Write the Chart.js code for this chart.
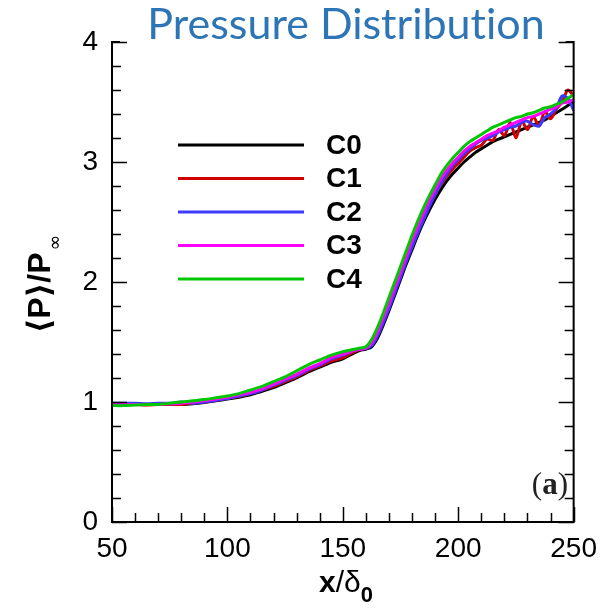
<!DOCTYPE html>
<html>
<head>
<meta charset="utf-8">
<script src="https://cdn.jsdelivr.net/npm/chart.js@4.4.1/dist/chart.umd.min.js"></script>
<style>
    html, body { margin: 0; padding: 0; background: #fff; }
    #wrap { width: 607px; height: 609px; position: relative; }
</style>
</head>
<body>
<div id="wrap"><canvas id="chartPressure"></canvas></div>
<script>
// streamwise stations x/delta0
const xPos = [50, 55, 60, 65, 70, 75, 80, 85, 90, 95, 100, 105, 110, 115, 120, 125, 130, 135, 140, 145,
    150, 155, 157.5, 160, 162.5, 165, 167.5, 170, 172.5, 175, 177.5, 180, 182.5, 185, 187.5, 190,
    192.5, 195, 197.5, 200, 202.5, 205, 207.5, 210, 212.5, 215, 217.5, 220, 222.5, 225, 227.5, 230,
    232.5, 235, 237.5, 240, 242.5, 245, 247.5, 250];

// mean wall pressure <P>/P_inf for each case
const c0 = [0.99, 0.98, 0.98, 0.98, 0.98, 0.98, 0.98, 0.985, 0.995, 1.01, 1.025, 1.04, 1.06, 1.09, 1.12, 1.16, 1.2, 1.25, 1.29, 1.33,
    1.36, 1.41, 1.43, 1.44, 1.46, 1.53, 1.64, 1.76, 1.89, 2.02, 2.15, 2.27, 2.39, 2.5, 2.6, 2.69,
    2.77, 2.84, 2.9, 2.95, 3.0, 3.04, 3.08, 3.11, 3.14, 3.17, 3.19, 3.21, 3.23, 3.25, 3.27, 3.29,
    3.31, 3.33, 3.35, 3.38, 3.41, 3.44, 3.47, 3.5];
const c1 = [0.99, 0.98, 0.98, 0.975, 0.98, 0.98, 0.98, 0.99, 1.0, 1.015, 1.03, 1.045, 1.07, 1.1, 1.13, 1.17, 1.21, 1.26, 1.3, 1.34,
    1.37, 1.42, 1.44, 1.445, 1.48, 1.56, 1.68, 1.8, 1.93, 2.06, 2.19, 2.31, 2.43, 2.54, 2.64, 2.73,
    2.81, 2.88, 2.94, 2.99, 3.04, 3.09, 3.12, 3.14, 3.19, 3.18, 3.27, 3.22, 3.33, 3.2, 3.34, 3.27,
    3.38, 3.3, 3.42, 3.36, 3.44, 3.5, 3.6, 3.55];
const c2 = [0.99, 0.99, 0.99, 0.985, 0.99, 0.99, 1.0, 0.99, 1.0, 1.015, 1.03, 1.05, 1.07, 1.1, 1.14, 1.18, 1.22, 1.27, 1.31, 1.36,
    1.39, 1.43, 1.44, 1.445, 1.47, 1.55, 1.66, 1.78, 1.91, 2.04, 2.17, 2.29, 2.41, 2.52, 2.63, 2.73,
    2.82, 2.9, 2.97, 3.02, 3.07, 3.11, 3.15, 3.18, 3.2, 3.22, 3.25, 3.27, 3.29, 3.3, 3.33, 3.34,
    3.31, 3.3, 3.37, 3.4, 3.45, 3.55, 3.53, 3.43];
const c3 = [0.98, 0.98, 0.98, 0.98, 0.98, 0.985, 0.99, 1.0, 1.01, 1.025, 1.04, 1.06, 1.08, 1.11, 1.15, 1.19, 1.23, 1.28, 1.32, 1.37,
    1.4, 1.43, 1.44, 1.45, 1.49, 1.58, 1.7, 1.82, 1.95, 2.08, 2.21, 2.34, 2.46, 2.57, 2.68, 2.77,
    2.86, 2.93, 2.99, 3.04, 3.09, 3.13, 3.16, 3.19, 3.22, 3.24, 3.26, 3.29, 3.31, 3.33, 3.35, 3.37,
    3.38, 3.4, 3.42, 3.44, 3.46, 3.49, 3.5, 3.52];
const c4 = [0.97, 0.97, 0.975, 0.98, 0.98, 0.99, 1.0, 1.01, 1.02, 1.035, 1.05, 1.07, 1.1, 1.13, 1.17, 1.21, 1.26, 1.31, 1.35, 1.39,
    1.42, 1.44, 1.45, 1.46, 1.52, 1.62, 1.74, 1.87, 2.0, 2.13, 2.26, 2.39, 2.51, 2.62, 2.72, 2.81,
    2.9, 2.97, 3.03, 3.08, 3.13, 3.17, 3.2, 3.23, 3.26, 3.29, 3.31, 3.33, 3.35, 3.37, 3.38, 3.4,
    3.41, 3.43, 3.45, 3.46, 3.48, 3.5, 3.53, 3.56];

const caseNames = ["C0", "C1", "C2", "C3", "C4"];
const caseColors = ["#000000", "#d00000", "#3a3aff", "#ff00ff", "#00c800"];
const caseValues = [c0, c1, c2, c3, c4];

const yTickLabels = ["0", "1", "2", "3", "4"];
const xTickLabels = ["50", "100", "150", "200", "250"];

const datasets = caseValues.map((vals, k) => ({
    label: caseNames[k],
    data: xPos.map((x, i) => ({ x: x, y: vals[i] })),
    borderColor: caseColors[k],
    borderWidth: 3,
    pointRadius: 0,
    fill: false,
    tension: 0.3,
    order: 4 - k // green drawn on top
}));

// frame with inward ticks, legend, titles
const decorations = {
    id: "decorations",
    afterDraw(chart) {
        const ctx = chart.ctx;
        const area = chart.chartArea;
        const xs = chart.scales.x;
        const ys = chart.scales.y;
        ctx.save();
        ctx.strokeStyle = "#000";
        ctx.lineWidth = 2;

        // frame: left, bottom, right, plus short top stubs
        ctx.beginPath();
        ctx.moveTo(area.left + 8, area.top);
        ctx.lineTo(area.left, area.top);
        ctx.lineTo(area.left, area.bottom);
        ctx.lineTo(area.right, area.bottom);
        ctx.lineTo(area.right, area.top);
        ctx.lineTo(area.right - 8, area.top);
        ctx.stroke();

        // y ticks on both sides, minor every 0.2
        ctx.lineWidth = 1.5;
        ctx.beginPath();
        for (let i = 0; i <= 20; i++) {
            const py = Math.round(ys.getPixelForValue(i * 0.2)) + 0.5;
            const len = i % 5 === 0 ? 15 : 9;
            ctx.moveTo(area.left, py);
            ctx.lineTo(area.left + len, py);
            ctx.moveTo(area.right, py);
            ctx.lineTo(area.right - len, py);
        }
        // x ticks, minor every 10
        for (let v = 50; v <= 250; v += 10) {
            const px = Math.round(xs.getPixelForValue(v)) + 0.5;
            const len = v % 50 === 0 ? 15 : 9;
            ctx.moveTo(px, area.bottom);
            ctx.lineTo(px, area.bottom - len);
        }
        ctx.stroke();

        // legend
        ctx.lineWidth = 3;
        ctx.font = "bold 28px 'Liberation Sans', Arial, sans-serif";
        ctx.textBaseline = "middle";
        ctx.textAlign = "left";
        caseNames.forEach((name, k) => {
            const ly = 145 + k * 33.5;
            ctx.strokeStyle = caseColors[k];
            ctx.beginPath();
            ctx.moveTo(178, ly);
            ctx.lineTo(304, ly);
            ctx.stroke();
            ctx.fillStyle = "#000";
            ctx.fillText(name, 326, ly + 1);
        });

        // panel tag
        ctx.fillStyle = "#222";
        ctx.textAlign = "right";
        ctx.textBaseline = "alphabetic";
        const tagPlain = "31px 'Liberation Serif', serif";
        const tagBold = "bold 31px 'Liberation Serif', serif";
        ctx.font = tagPlain;
        const closeW = ctx.measureText(")").width;
        ctx.fillText(")", 568, 494);
        ctx.font = tagBold;
        const aW = ctx.measureText("a").width;
        ctx.fillText("a", 568 - closeW, 494);
        ctx.font = tagPlain;
        ctx.fillText("(", 568 - closeW - aW, 494);

        // x axis title: x/δ0
        ctx.fillStyle = "#000";
        ctx.textAlign = "left";
        ctx.font = "bold 30px 'Liberation Sans', Arial, sans-serif";
        const xPart = "x";
        const xW = ctx.measureText(xPart).width;
        ctx.font = "30px 'Liberation Sans', Arial, sans-serif";
        const slashW = ctx.measureText("/δ").width;
        ctx.font = "bold 22px 'Liberation Sans', Arial, sans-serif";
        const subW = ctx.measureText("0").width;
        let tx = 346 - (xW + slashW + subW) / 2;
        const tBase = 592;
        ctx.font = "bold 30px 'Liberation Sans', Arial, sans-serif";
        ctx.fillText(xPart, tx, tBase);
        tx += xW;
        ctx.font = "30px 'Liberation Sans', Arial, sans-serif";
        ctx.fillText("/δ", tx, tBase);
        tx += slashW;
        ctx.font = "bold 22px 'Liberation Sans', Arial, sans-serif";
        ctx.fillText("0", tx, tBase + 10);

        // y axis title: <P>/P_inf, rotated
        ctx.save();
        ctx.translate(50, 285);
        ctx.rotate(-Math.PI / 2);
        ctx.font = "bold 32px 'Liberation Sans', 'DejaVu Sans', sans-serif";
        const main = "⟨P⟩/P";
        const mainW = ctx.measureText(main).width;
        ctx.font = "19px 'DejaVu Sans', sans-serif";
        const infW = ctx.measureText("∞").width;
        const sx = -(mainW + infW) / 2;
        ctx.font = "bold 32px 'Liberation Sans', 'DejaVu Sans', sans-serif";
        ctx.fillText(main, sx, 0);
        ctx.font = "19px 'DejaVu Sans', sans-serif";
        ctx.fillText("∞", sx + mainW + 2, 11);
        ctx.restore();

        // title; ZWNJ keeps Lato from joining "ti"
        ctx.fillStyle = "#2e75b6";
        ctx.textAlign = "center";
        ctx.font = "43px Lato, 'Open Sans', sans-serif";
        ctx.fillText("Pressure Distribut\u200Cion", 346, 39);

        ctx.restore();
    }
};

new Chart(document.getElementById("chartPressure"), {
    type: "line",
    data: { datasets: datasets },
    options: {
        responsive: true,
        maintainAspectRatio: false,
        animation: false,
        layout: { padding: { top: 42, right: 26, left: 0, bottom: 0 } },
        plugins: { legend: { display: false }, tooltip: { enabled: false } },
        scales: {
            x: {
                type: "linear",
                min: 50,
                max: 250,
                afterFit: (s) => { s.height = 87; },
                afterBuildTicks: (s) => { s.ticks = xTickLabels.map(t => ({ value: Number(t) })); },
                grid: { display: false, drawTicks: false },
                border: { display: false },
                ticks: {
                    color: "#000",
                    padding: 10,
                    font: { family: "'Liberation Sans', Arial, sans-serif", size: 28 },
                    callback: (v) => String(v)
                }
            },
            y: {
                type: "linear",
                min: 0,
                max: 4,
                afterFit: (s) => { s.width = 112; },
                afterBuildTicks: (s) => { s.ticks = yTickLabels.map(t => ({ value: Number(t) })); },
                grid: { display: false, drawTicks: false },
                border: { display: false },
                ticks: {
                    color: "#000",
                    padding: 14,
                    font: { family: "'Liberation Sans', Arial, sans-serif", size: 28 },
                    callback: (v) => String(v)
                }
            }
        }
    },
    plugins: [decorations]
});
</script>
</body>
</html>
